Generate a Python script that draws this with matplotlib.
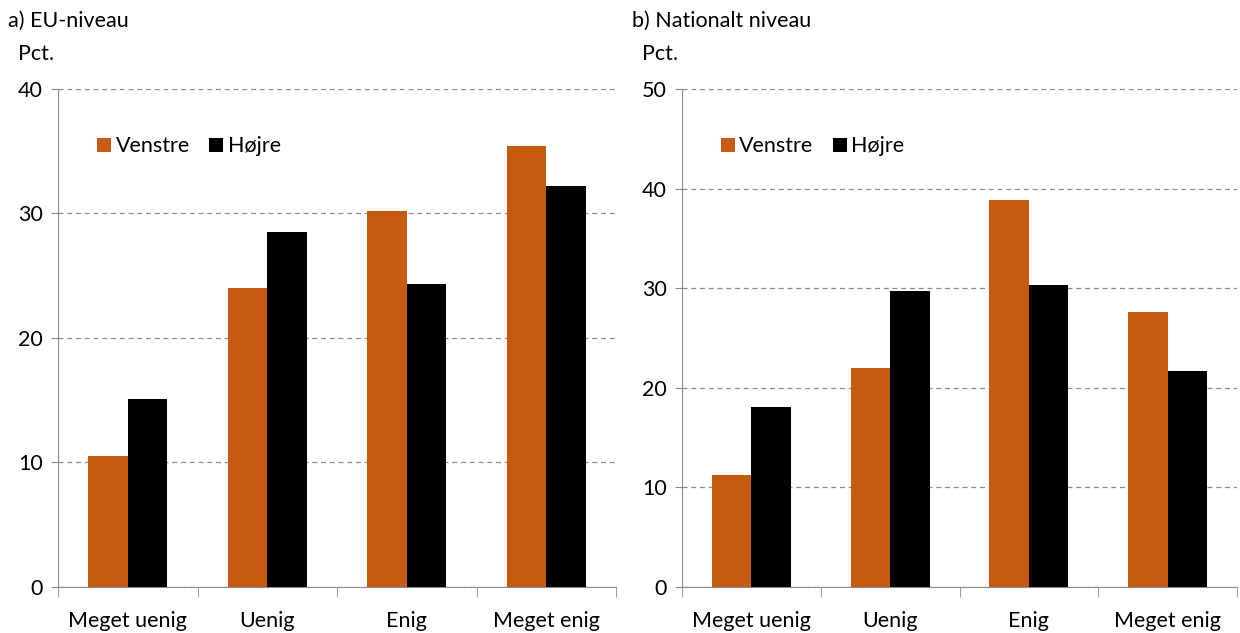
import numpy as np
import matplotlib.pyplot as plt

plt.rcParams['font.family'] = ['Lato', 'DejaVu Sans']

kategorier = ['Meget uenig', 'Uenig', 'Enig', 'Meget enig']

# a) EU-niveau
eu_venstre = [10.5, 24.0, 30.2, 35.4]
eu_hojre = [15.1, 28.5, 24.3, 32.2]

# b) Nationalt niveau
nat_venstre = [11.2, 22.0, 38.9, 27.6]
nat_hojre = [18.1, 29.7, 30.3, 21.7]

orange = '#C55A11'
sort = '#000000'
fs = 15.5

fig = plt.figure(figsize=(12.4, 6.33), dpi=100)

def panel(ax, venstre, hojre, ymax, titel):
    x = np.arange(len(kategorier))
    b = 0.284
    ax.bar(x - b / 2, venstre, width=b, color=orange, label='Venstre', zorder=3)
    ax.bar(x + b / 2, hojre, width=b, color=sort, label='Højre', zorder=3)
    ax.set_xlim(-0.5, len(kategorier) - 0.5)
    ax.set_ylim(0, ymax)
    ax.set_yticks(np.arange(0, ymax + 1, 10))
    ax.yaxis.grid(True, linestyle=(0, (4, 3)), color='#8c8c8c', linewidth=0.9, zorder=0)
    for s in ['top', 'right']:
        ax.spines[s].set_visible(False)
    for s in ['left', 'bottom']:
        ax.spines[s].set_color('#8c8c8c')
    # kategori-navne midt i, tick-streger mellem kategorierne
    ax.set_xticks(x)
    ax.set_xticklabels(kategorier, fontsize=fs)
    ax.tick_params(axis='x', length=0, pad=17)
    ax.set_xticks(np.arange(-0.5, len(kategorier)), minor=True)
    ax.tick_params(axis='x', which='minor', length=7, color='#8c8c8c')
    ax.tick_params(axis='y', length=5, color='#8c8c8c', labelsize=fs, pad=6)
    ax.legend(loc='upper left', bbox_to_anchor=(0.055, 0.922), ncol=2, frameon=False,
              fontsize=fs, handlelength=0.65, handleheight=0.65, handletextpad=0.2,
              columnspacing=0.9, borderaxespad=0)
    ax.text(-0.09, 1.137, titel, transform=ax.transAxes, fontsize=fs, va='center', ha='left')
    ax.text(-0.072, 1.071, 'Pct.', transform=ax.transAxes, fontsize=fs, va='center', ha='left')

ax1 = fig.add_axes([58 / 1240, 0.0727, 558 / 1240, 0.7867])
panel(ax1, eu_venstre, eu_hojre, 40, 'a) EU-niveau')

ax2 = fig.add_axes([682 / 1240, 0.0727, 555 / 1240, 0.7867])
panel(ax2, nat_venstre, nat_hojre, 50, 'b) Nationalt niveau')

plt.savefig('out.png', dpi=100)
